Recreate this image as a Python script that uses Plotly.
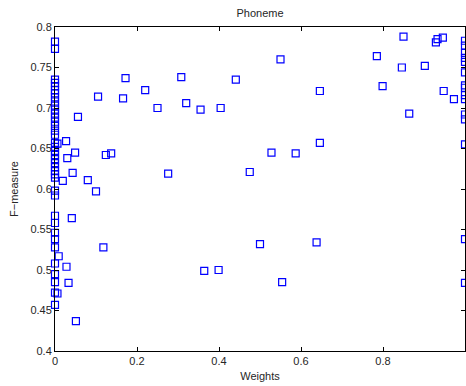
import plotly.graph_objects as go

# x = 0 column
col0_y = [0.782, 0.773, 0.735, 0.731, 0.727, 0.722, 0.718, 0.713, 0.708, 0.703,
          0.698, 0.693, 0.688, 0.683, 0.678, 0.672, 0.667, 0.657, 0.652, 0.647,
          0.642, 0.637, 0.632, 0.627, 0.622, 0.618, 0.614, 0.598, 0.592, 0.567,
          0.558, 0.546, 0.538, 0.528, 0.508, 0.495, 0.485, 0.472, 0.457]
# x = 1 column
col1_y = [0.783, 0.777, 0.768, 0.762, 0.757, 0.744, 0.728, 0.725, 0.716, 0.711,
          0.692, 0.686, 0.655, 0.538, 0.484]
# interior points
mid_x = [0.006, 0.009, 0.006, 0.027, 0.030, 0.049, 0.043, 0.019, 0.080, 0.100,
         0.056, 0.105, 0.172, 0.166, 0.220, 0.250, 0.124, 0.137, 0.028, 0.033,
         0.041, 0.051, 0.118, 0.308, 0.441, 0.550, 0.320, 0.355, 0.404, 0.528,
         0.587, 0.276, 0.475, 0.364, 0.399, 0.500, 0.554, 0.850, 0.933, 0.946,
         0.929, 0.785, 0.846, 0.902, 0.646, 0.799, 0.948, 0.973, 0.864, 0.646,
         0.638]
mid_y = [0.656, 0.517, 0.471, 0.659, 0.638, 0.645, 0.620, 0.610, 0.611, 0.597,
         0.689, 0.714, 0.737, 0.712, 0.722, 0.700, 0.642, 0.644, 0.504, 0.484,
         0.564, 0.437, 0.528, 0.738, 0.735, 0.760, 0.706, 0.698, 0.700, 0.645,
         0.644, 0.619, 0.621, 0.499, 0.500, 0.532, 0.485, 0.788, 0.785, 0.787,
         0.781, 0.764, 0.750, 0.752, 0.721, 0.727, 0.721, 0.711, 0.693, 0.657,
         0.534]

xs = [0.0] * len(col0_y) + [1.0] * len(col1_y) + mid_x
ys = col0_y + col1_y + mid_y

fig = go.Figure(go.Scatter(
    x=xs, y=ys, mode="markers",
    marker=dict(symbol="square-open", size=7, color="#0000ff", line=dict(width=1.2, color="#0000ff")),
    cliponaxis=False, showlegend=False))

font = dict(family="Liberation Sans, Arial, sans-serif", size=11, color="#262626")
axis_common = dict(showline=True, linecolor="black", linewidth=1, mirror="ticks",
                   ticks="inside", ticklen=4, tickcolor="black", showgrid=False,
                   zeroline=False, tickfont=font)

fig.update_layout(
    width=466, height=386,
    margin=dict(l=55, r=1, t=27, b=35),
    paper_bgcolor="white", plot_bgcolor="white",
    title=dict(text="Phoneme", x=0.558, xanchor="center", y=0.966, yanchor="middle", font=font),
    xaxis=dict(range=[0, 1], tickvals=[0, 0.2, 0.4, 0.6, 0.8, 1],
               ticktext=["0", "0.2", "0.4", "0.6", "0.8", "1"],
               title=dict(text="Weights", font=font, standoff=6), **axis_common),
    yaxis=dict(range=[0.4, 0.8], tickvals=[0.4, 0.45, 0.5, 0.55, 0.6, 0.65, 0.7, 0.75, 0.8],
               ticktext=["0.4", "0.45", "0.5", "0.55", "0.6", "0.65", "0.7", "0.75", "0.8"],
               title=dict(text="F\u2212measure", font=font, standoff=9), **axis_common),
)

fig.write_html("out.html", config={"displayModeBar": False},
               post_script="document.body.style.margin='0';document.body.style.overflow='hidden';")
